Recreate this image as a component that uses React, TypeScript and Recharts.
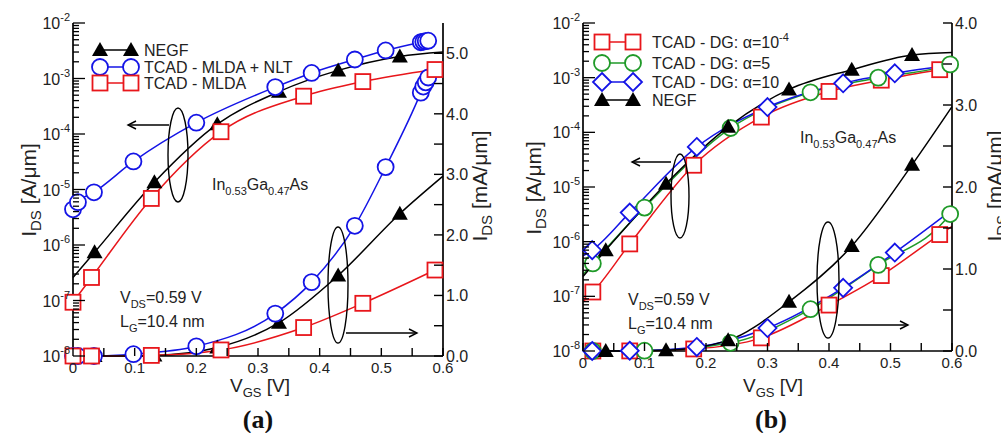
import React from 'react';
import { ComposedChart, Line, XAxis, YAxis } from 'recharts';

const FONT = '"Liberation Sans", Arial, Helvetica, sans-serif';
const SERIF = '"Liberation Serif", "DejaVu Serif", serif';

const RED = '#e8161b';
const BLUE = '#1414e6';
const GREEN = '#1f9a28';
const BLACK = '#000000';

// axis ticks
const vgsTicks = [0, 0.05, 0.1, 0.15, 0.2, 0.25, 0.3, 0.35, 0.4, 0.45, 0.5, 0.55, 0.6];
const logDecades = [-8, -7, -6, -5, -4, -3];
const logMantissas = [1, 2, 3, 4, 5, 6, 7, 8, 9];
const logTicks = [...logDecades.flatMap(d => logMantissas.map(k => k * Math.pow(10, d))), 1e-2];
const linTicksA = [0, 0.5, 1, 1.5, 2, 2.5, 3, 3.5, 4, 4.5, 5];
const linTicksB = [0, 0.5, 1, 1.5, 2, 2.5, 3, 3.5, 4];

// ---- panel (a) ----  log values in A/um, lin values in mA/um
const aNegfV = [0.035, 0.132, 0.234, 0.334, 0.43, 0.53];
const aNegfLog = [7.4e-7, 1.35e-5, 1.5e-4, 5.8e-4, 1.4e-3, 2.5e-3];
const aNegfLin = [0, 0.01, 0.14, 0.55, 1.33, 2.35];
const aNegfLogEnds = [2.6e-7, 3.0e-3]; // fitted curve at 0 V and 0.6 V
const aNegfLinEnds = [0, 2.97];

const aNltV = [0, 0.008, 0.034, 0.098, 0.2, 0.328, 0.387, 0.457, 0.507, 0.564, 0.568, 0.572, 0.576];
const aNltLog = [4.4e-6, 5.9e-6, 8.9e-6, 3.2e-5, 1.6e-4, 7e-4, 1.26e-3, 2.2e-3, 3.2e-3, 4.5e-3, 4.6e-3, 4.7e-3, 4.8e-3];
const aNltLin = [0, 0, 0, 0.03, 0.16, 0.7, 1.22, 2.15, 3.12, 4.35, 4.45, 4.52, 4.6];

const aMldaV = [0, 0.03, 0.127, 0.24, 0.374, 0.47, 0.587];
const aMldaLog = [9.3e-8, 2.6e-7, 6.9e-6, 1.1e-4, 4.8e-4, 8.8e-4, 1.45e-3];
const aMldaLin = [0, 0, 0.01, 0.1, 0.47, 0.87, 1.42];

// ---- panel (b) ----
const bDg4V = [0.016, 0.076, 0.18, 0.29, 0.4, 0.485, 0.58];
const bDg4Log = [1.2e-7, 9.1e-7, 2.5e-5, 1.9e-4, 5.6e-4, 9e-4, 1.4e-3];
const bDg4Lin = [0, 0.001, 0.025, 0.16, 0.56, 0.92, 1.42];
const bDg4LogEnds = [8e-8, 1.5e-3];
const bDg4LinEnds = [0, 1.52];

const bDg5V = [0.016, 0.1, 0.24, 0.37, 0.48, 0.597];
const bDg5Log = [4e-7, 4.2e-6, 1.2e-4, 5.4e-4, 1e-3, 1.75e-3];
const bDg5Lin = [0, 0.004, 0.1, 0.51, 1.05, 1.67];
const bDg5LogEnds = [2.5e-7, 1.8e-3];
const bDg5LinEnds = [0, 1.7];

const bDg10V = [0.015, 0.076, 0.185, 0.3, 0.423, 0.507];
const bDg10Log = [7e-7, 3.4e-6, 5.4e-5, 2.9e-4, 7.9e-4, 1.2e-3];
const bDg10Lin = [0, 0.003, 0.05, 0.28, 0.77, 1.2];
const bDg10LogEnds = [5.5e-7, 1.7e-3];
const bDg10LinEnds = [0, 1.72];

const bNegfV = [0.037, 0.135, 0.236, 0.335, 0.437, 0.535];
const bNegfLog = [7e-7, 1.15e-5, 1.26e-4, 6.1e-4, 1.4e-3, 2.6e-3];
const bNegfLin = [0, 0.01, 0.13, 0.6, 1.28, 2.27];
const bNegfLogEnds = [2.3e-7, 2.9e-3];
const bNegfLinEnds = [0, 2.98];

type Shape = 'circle' | 'square' | 'diamond' | 'triangle';
interface Series {
  id: string;
  color: string;
  shape: Shape;
  v: number[];
  log: number[];
  lin: number[];
  logEnds?: number[];
  linEnds?: number[];
}

const seriesA: Series[] = [
  { id: 'aNegf', color: BLACK, shape: 'triangle', v: aNegfV, log: aNegfLog, lin: aNegfLin, logEnds: aNegfLogEnds, linEnds: aNegfLinEnds },
  { id: 'aNlt', color: BLUE, shape: 'circle', v: aNltV, log: aNltLog, lin: aNltLin },
  { id: 'aMlda', color: RED, shape: 'square', v: aMldaV, log: aMldaLog, lin: aMldaLin },
];

const seriesB: Series[] = [
  { id: 'bDg4', color: RED, shape: 'square', v: bDg4V, log: bDg4Log, lin: bDg4Lin, logEnds: bDg4LogEnds, linEnds: bDg4LinEnds },
  { id: 'bDg5', color: GREEN, shape: 'circle', v: bDg5V, log: bDg5Log, lin: bDg5Lin, logEnds: bDg5LogEnds, linEnds: bDg5LinEnds },
  { id: 'bDg10', color: BLUE, shape: 'diamond', v: bDg10V, log: bDg10Log, lin: bDg10Lin, logEnds: bDg10LogEnds, linEnds: bDg10LinEnds },
  { id: 'bNegf', color: BLACK, shape: 'triangle', v: bNegfV, log: bNegfLog, lin: bNegfLin, logEnds: bNegfLogEnds, linEnds: bNegfLinEnds },
];

const pts = (xs: number[], ys: number[]) => xs.map((x, i) => ({ x, y: ys[i] }));
const curve = (xs: number[], ys: number[], ends?: number[]) =>
  ends ? [{ x: 0, y: ends[0] }, ...pts(xs, ys), { x: 0.6, y: ends[1] }] : pts(xs, ys);

function Marker({ shape, color, cx, cy }: { shape: Shape; color: string; cx: number; cy: number }) {
  if (shape === 'circle') return <circle cx={cx} cy={cy} r={8} fill="#fff" stroke={color} strokeWidth={1.8} />;
  if (shape === 'square')
    return <rect x={cx - 7.5} y={cy - 7.5} width={15} height={15} fill="#fff" stroke={color} strokeWidth={1.8} />;
  if (shape === 'diamond')
    return (
      <polygon
        points={`${cx},${cy - 9} ${cx + 9},${cy} ${cx},${cy + 9} ${cx - 9},${cy}`}
        fill="#fff"
        stroke={color}
        strokeWidth={1.8}
      />
    );
  return <polygon points={`${cx},${cy - 8} ${cx + 8},${cy + 6} ${cx - 8},${cy + 6}`} fill={color} />;
}

const BottomTick = ({ x, y, payload }: any) => {
  const v = payload.value;
  const major = Math.abs(v * 10 - Math.round(v * 10)) < 1e-6;
  return (
    <g>
      <line x1={x} y1={y} x2={x} y2={y - 8} stroke="#000" strokeWidth={1.4} />
      {major && (
        <text x={x} y={y + 17} textAnchor="middle" fontSize={15} fontFamily={FONT} fill="#222">
          {v === 0 ? '0' : v.toFixed(1)}
        </text>
      )}
    </g>
  );
};

const TopTick = ({ x, y }: any) => <line x1={x} y1={y} x2={x} y2={y + 8} stroke="#000" strokeWidth={1.4} />;

const LogTick = ({ x, y, payload }: any) => {
  const e = Math.log10(payload.value);
  const major = Math.abs(e - Math.round(e)) < 1e-6;
  return (
    <g>
      <line x1={x} y1={y} x2={x + (major ? 12 : 6)} y2={y} stroke="#000" strokeWidth={1.3} />
      {major && (
        <text x={x - 3} y={y + 6} textAnchor="end" fontSize={16} fontFamily={FONT} fill="#222">
          10
          <tspan dy={-8} fontSize={11}>
            {String(Math.round(e))}
          </tspan>
        </text>
      )}
    </g>
  );
};

const LinTick = ({ x, y, payload }: any) => {
  const v = payload.value;
  const major = Math.abs(v - Math.round(v)) < 1e-6;
  return (
    <g>
      <line x1={x} y1={y} x2={x - 9} y2={y} stroke="#000" strokeWidth={1.4} />
      {major && (
        <text x={x + 3} y={y + 6} textAnchor="start" fontSize={16} fontFamily={FONT} fill="#222">
          {v.toFixed(1)}
        </text>
      )}
    </g>
  );
};

const axisLine = { stroke: '#000', strokeWidth: 1.7 };

function Panel({
  series,
  width,
  left,
  right,
  bottom,
  linMax,
  linTicks,
}: {
  series: Series[];
  width: number;
  left: number;
  right: number;
  bottom: number;
  linMax: number;
  linTicks: number[];
}) {
  return (
    <ComposedChart width={width} height={433} margin={{ top: 23, right: 0, bottom: 0, left: 0 }}>
      <XAxis
        xAxisId="b"
        dataKey="x"
        type="number"
        domain={[0, 0.6]}
        ticks={vgsTicks}
        interval={0}
        tick={(p: any) => <BottomTick {...p} />}
        tickLine={false}
        tickSize={0}
        tickMargin={0}
        height={bottom}
        axisLine={axisLine}
      />
      <XAxis
        xAxisId="t"
        orientation="top"
        dataKey="x"
        type="number"
        domain={[0, 0.6]}
        ticks={vgsTicks}
        interval={0}
        tick={(p: any) => <TopTick {...p} />}
        tickLine={false}
        tickSize={0}
        tickMargin={0}
        height={0}
        axisLine={axisLine}
      />
      <YAxis
        yAxisId="log"
        scale="log"
        type="number"
        domain={[1e-8, 1e-2]}
        ticks={logTicks}
        interval={0}
        tick={(p: any) => <LogTick {...p} />}
        tickLine={false}
        tickSize={0}
        tickMargin={0}
        width={left}
        axisLine={axisLine}
      />
      <YAxis
        yAxisId="lin"
        orientation="right"
        type="number"
        domain={[0, linMax]}
        ticks={linTicks}
        interval={0}
        tick={(p: any) => <LinTick {...p} />}
        tickLine={false}
        tickSize={0}
        tickMargin={0}
        width={right}
        axisLine={axisLine}
      />
      {series.flatMap(s => [
        <Line
          key={`${s.id}-logc`}
          xAxisId="b"
          yAxisId="log"
          data={curve(s.v, s.log, s.logEnds)}
          dataKey="y"
          type="monotone"
          stroke={s.color}
          strokeWidth={1.5}
          dot={false}
          activeDot={false}
          isAnimationActive={false}
        />,
        <Line
          key={`${s.id}-linc`}
          xAxisId="b"
          yAxisId="lin"
          data={curve(s.v, s.lin, s.linEnds)}
          dataKey="y"
          type="monotone"
          stroke={s.color}
          strokeWidth={1.5}
          dot={false}
          activeDot={false}
          isAnimationActive={false}
        />,
      ])}
      {series.flatMap(s =>
        (['log', 'lin'] as const).map(ax => (
          <Line
            key={`${s.id}-${ax}m`}
            xAxisId="b"
            yAxisId={ax}
            data={pts(s.v, s[ax])}
            dataKey="y"
            stroke="none"
            activeDot={false}
            isAnimationActive={false}
            dot={(p: any) =>
              p.cx == null || p.cy == null ? (
                <g key={`${s.id}-${ax}-${p.index}`} />
              ) : (
                <Marker key={`${s.id}-${ax}-${p.index}`} shape={s.shape} color={s.color} cx={p.cx} cy={p.cy} />
              )
            }
          />
        ))
      )}
    </ComposedChart>
  );
}

function LegendRow({ s, label, x1, x2, y, tx }: { s: Series; label: React.ReactNode; x1: number; x2: number; y: number; tx: number }) {
  return (
    <g>
      <line x1={x1} y1={y} x2={x2} y2={y} stroke={s.color} strokeWidth={1.5} />
      <Marker shape={s.shape} color={s.color} cx={x1} cy={y} />
      <Marker shape={s.shape} color={s.color} cx={x2} cy={y} />
      <text x={tx} y={y + 6} fontSize={16} fontFamily={FONT} fill="#222">
        {label}
      </text>
    </g>
  );
}

function Arrow({ x1, x2, y }: { x1: number; x2: number; y: number }) {
  const d = x2 > x1 ? -8 : 8;
  return (
    <g stroke="#000" strokeWidth={1.4} fill="none">
      <line x1={x1} y1={y} x2={x2} y2={y} />
      <polyline points={`${x2 + d},${y - 4} ${x2},${y} ${x2 + d},${y + 4}`} />
    </g>
  );
}

function Alloy({ x, y }: { x: number; y: number }) {
  return (
    <text x={x} y={y} fontSize={16} fontFamily={FONT} fill="#222">
      In
      <tspan dy={5} fontSize={11}>0.53</tspan>
      <tspan dy={-5}>Ga</tspan>
      <tspan dy={5} fontSize={11}>0.47</tspan>
      <tspan dy={-5}>As</tspan>
    </text>
  );
}

function Bias({ x, y }: { x: number; y: number }) {
  return (
    <g fontSize={16} fontFamily={FONT} fill="#222">
      <text x={x} y={y}>
        V<tspan dy={5} fontSize={11}>DS</tspan>
        <tspan dy={-5}>=0.59 V</tspan>
      </text>
      <text x={x} y={y + 24}>
        L<tspan dy={5} fontSize={11}>G</tspan>
        <tspan dy={-5}>=10.4 nm</tspan>
      </text>
    </g>
  );
}

function YTitle({ x, y, unit }: { x: number; y: number; unit: string }) {
  return (
    <text transform={`translate(${x},${y}) rotate(-90)`} textAnchor="middle" fontSize={21} fontFamily={FONT} fill="#222" style={{ whiteSpace: 'pre' }}>
      I<tspan dy={5} fontSize={15}>DS</tspan>
      <tspan dy={-5}>{` [${unit}]`}</tspan>
    </text>
  );
}

function XTitle({ x, y }: { x: number; y: number }) {
  return (
    <text x={x} y={y} textAnchor="middle" fontSize={19} fontFamily={FONT} fill="#222" style={{ whiteSpace: 'pre' }}>
      V<tspan dy={5} fontSize={13}>GS</tspan>
      <tspan dy={-5}>{' [V]'}</tspan>
    </text>
  );
}

export default function App() {
  return (
    <div style={{ position: 'absolute', left: 0, top: 0, width: 1001, height: 433, background: '#fff', overflow: 'hidden' }}>
      <div style={{ position: 'absolute', left: 0, top: 0 }}>
        <Panel series={seriesA} width={500} left={73} right={57} bottom={77} linMax={5.5} linTicks={linTicksA} />
      </div>
      <div style={{ position: 'absolute', left: 500, top: 0 }}>
        <Panel series={seriesB} width={501} left={83} right={49} bottom={82} linMax={4} linTicks={linTicksB} />
      </div>
      <svg width={1001} height={433} style={{ position: 'absolute', left: 0, top: 0, pointerEvents: 'none' }}>
        {/* panel (a) */}
        <LegendRow s={seriesA[0]} label="NEGF" x1={100} x2={131} y={50} tx={144} />
        <LegendRow s={seriesA[1]} label="TCAD - MLDA + NLT" x1={100} x2={131} y={67} tx={144} />
        <LegendRow s={seriesA[2]} label="TCAD - MLDA" x1={100} x2={131} y={83} tx={144} />
        <ellipse cx={178} cy={155} rx={10} ry={47} fill="none" stroke="#000" strokeWidth={1.4} />
        <Arrow x1={169} x2={128} y={125} />
        <ellipse cx={338} cy={285} rx={10} ry={58} fill="none" stroke="#000" strokeWidth={1.4} />
        <Arrow x1={346} x2={417} y={333} />
        <Alloy x={212} y={190} />
        <Bias x={120} y={303} />
        <YTitle x={36} y={190} unit="A/μm" />
        <YTitle x={487} y={186} unit="mA/μm" />
        <XTitle x={260} y={392} />
        <text x={258} y={428} textAnchor="middle" fontSize={26} fontWeight="bold" fontFamily={SERIF} fill="#111">
          (<tspan>a</tspan>)
        </text>

        {/* panel (b) */}
        <LegendRow
          s={seriesB[0]}
          label={
            <>
              TCAD - DG: α=10<tspan dy={-7} fontSize={11}>-4</tspan>
            </>
          }
          x1={602}
          x2={633}
          y={42}
          tx={652}
        />
        <LegendRow s={seriesB[1]} label="TCAD - DG: α=5" x1={602} x2={633} y={63} tx={652} />
        <LegendRow s={seriesB[2]} label="TCAD - DG: α=10" x1={602} x2={633} y={82} tx={652} />
        <LegendRow s={seriesB[3]} label="NEGF" x1={602} x2={633} y={100} tx={652} />
        <ellipse cx={680} cy={196} rx={9} ry={42} fill="none" stroke="#000" strokeWidth={1.4} />
        <Arrow x1={671} x2={632} y={162} />
        <ellipse cx={828} cy={280} rx={11} ry={58} fill="none" stroke="#000" strokeWidth={1.4} />
        <Arrow x1={838} x2={908} y={325} />
        <Alloy x={800} y={143} />
        <Bias x={628} y={305} />
        <YTitle x={541} y={188} unit="A/μm" />
        <YTitle x={1002} y={186} unit="mA/μm" />
        <XTitle x={773} y={392} />
        <text x={771} y={428} textAnchor="middle" fontSize={26} fontWeight="bold" fontFamily={SERIF} fill="#111">
          (<tspan>b</tspan>)
        </text>
      </svg>
    </div>
  );
}
